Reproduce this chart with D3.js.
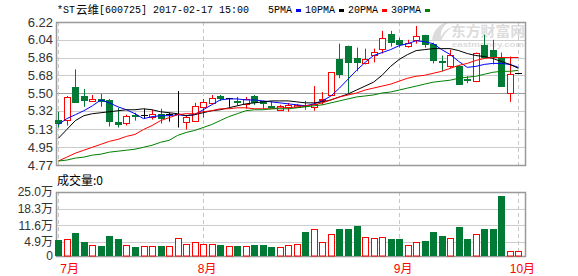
<!DOCTYPE html>
<html>
<head>
<meta charset="utf-8">
<script src="https://cdn.jsdelivr.net/npm/d3@7"></script>
<style>
body { margin: 0; background: #fff; }
svg { display: block; }
</style>
</head>
<body>
<div id="chart"></div>
<script>
// daily candles (yuan)
var open  = [5.23,5.23,5.56,5.47,5.42,5.44,5.43,5.21,5.20,5.28, 5.28,5.26,5.29,5.29,5.29,5.21,5.22,5.36,5.40,5.47,
             5.45,5.42,5.39,5.47,5.42,5.37,5.33,5.36,5.36,5.38, 5.36,5.43,5.48,5.84,5.98,5.85,5.80,5.89,5.95,6.10,
             6.04,5.98,6.04,6.09,6.00,5.82,5.78,5.77,5.64,5.63, 5.99,5.94,5.86,5.50,5.70];
var high  = [5.31,5.47,5.74,5.54,5.48,5.49,5.44,5.35,5.28,5.30, 5.34,5.33,5.34,5.30,5.52,5.27,5.40,5.44,5.48,5.48,
             5.45,5.46,5.46,5.48,5.42,5.42,5.38,5.40,5.39,5.42, 5.57,5.51,5.71,6.00,5.98,5.96,5.95,5.95,6.13,6.13,
             6.06,6.04,6.18,6.09,6.01,5.88,5.94,5.78,5.67,5.91, 6.09,6.04,5.91,5.87,5.70];
var low   = [5.15,5.17,5.40,5.36,5.41,5.36,5.16,5.15,5.17,5.22, 5.24,5.23,5.19,5.21,5.15,5.13,5.21,5.25,5.39,5.42,
             5.36,5.37,5.34,5.38,5.34,5.35,5.32,5.31,5.35,5.33, 5.32,5.38,5.47,5.65,5.50,5.72,5.79,5.81,5.90,5.97,
             5.96,5.96,6.00,5.96,5.80,5.72,5.75,5.59,5.60,5.61, 5.85,5.79,5.58,5.41,5.70];
var close = [5.20,5.46,5.41,5.43,5.44,5.42,5.22,5.19,5.27,5.27, 5.28,5.29,5.25,5.29,5.29,5.26,5.37,5.41,5.45,5.45,
             5.45,5.41,5.44,5.41,5.40,5.36,5.37,5.38,5.38,5.37, 5.39,5.44,5.71,5.69,5.82,5.81,5.84,5.92,6.06,6.02,
             6.00,6.01,6.08,6.00,5.84,5.81,5.89,5.59,5.63,5.91, 5.87,5.88,5.58,5.69,5.70];
// volume, 万 shares
var vol   = [5.6,6.0,8.6,5.0,3.6,3.2,7.3,6.0,3.6,2.8, 3.2,3.2,3.2,3.2,6.3,4.0,4.8,4.0,4.0,3.6,
             3.2,3.2,3.2,3.6,3.6,2.8,2.8,3.6,4.0,9.0, 10.1,5.0,8.1,10.1,10.1,11.3,6.7,6.3,6.7,6.0,
             6.0,3.6,4.8,5.2,9.0,7.3,6.3,10.9,6.0,8.1, 10.1,10.1,23.5,1.2,1.2];
// moving averages as drawn
var ma5  = [5.18,5.24,5.28,5.32,5.37,5.43,5.40,5.36,5.33,5.29, 5.24,5.26,5.27,5.27,5.28,5.27,5.28,5.33,5.38,5.43,
            5.44,5.44,5.43,5.43,5.42,5.41,5.40,5.39,5.38,5.37, 5.39,5.42,5.47,5.55,5.64,5.73,5.81,5.88,5.91,5.94,
            5.98,6.00,6.03,6.02,6.00,5.94,5.89,5.82,5.76,5.77, 5.79,5.80,5.80,5.79,5.76];
var ma10 = [5.04,5.13,5.22,5.27,5.29,5.30,5.31,5.32,5.33,5.33, 5.34,5.33,5.31,5.30,5.29,5.27,5.28,5.30,5.32,5.33,
            5.35,5.37,5.39,5.40,5.41,5.42,5.42,5.42,5.41,5.40, 5.40,5.41,5.43,5.46,5.49,5.53,5.57,5.61,5.68,5.77,
            5.84,5.89,5.93,5.94,5.95,5.95,5.95,5.93,5.90,5.88, 5.87,5.85,5.82,5.79,5.75];
var ma20 = [4.81,4.85,4.89,4.92,4.95,4.98,5.01,5.03,5.06,5.08, 5.13,5.17,5.22,5.25,5.28,5.29,5.29,5.31,5.32,5.34,
            5.34,5.35,5.35,5.34,5.34,5.34,5.35,5.35,5.36,5.37, 5.38,5.40,5.43,5.46,5.48,5.50,5.53,5.55,5.57,5.59,
            5.62,5.65,5.67,5.68,5.70,5.72,5.75,5.78,5.80,5.83, 5.85,5.86,5.86,5.86,5.86];
var ma30 = [4.81,4.82,4.84,4.85,4.87,4.88,4.90,4.91,4.92,4.93, 4.95,4.97,5.00,5.02,5.07,5.10,5.12,5.15,5.18,5.22,
            5.26,5.29,5.32,5.33,5.33,5.34,5.34,5.34,5.35,5.36, 5.37,5.38,5.40,5.42,5.44,5.46,5.47,5.48,5.50,5.51,
            5.53,5.55,5.57,5.59,5.61,5.62,5.63,5.65,5.66,5.67, 5.69,5.71,5.72,5.72,5.73];

var priceTicks = [6.22,6.04,5.86,5.68,5.50,5.32,5.13,4.95,4.77];
var volTicks = [25.0,18.3,11.6,4.9,0];
var months = ["7月","8月","9月","10月"];
var monthIdx = [0,17,40,54];
var maNames = ["5PMA","10PMA","20PMA","30PMA"];
var maColors = ["#0000ff","#000000","#ff0000","#008000"];

var RED = "#ff0000", GREEN = "#007a35";

var W = 578, H = 276;
var left = 56, right = 525, pTop = 22, pBot = 165, vTop = 192, vBot = 256;

var svg = d3.select("#chart").append("svg")
    .attr("width", W).attr("height", H)
    .style("font-family", "'Liberation Sans', Arial, sans-serif");

var x = d3.scaleLinear().domain([0, close.length - 1]).range([58.3, 518.4]);
var y = d3.scaleLinear().domain([4.77, 6.22]).range([pBot, pTop]);
// the volume zero sits a little above the frame bottom in the original
var yv = d3.scaleLinear().domain([0, 25]).range([254, vTop]);

function px(v) { return Math.round(v) + 0.5; }

// watermark
var wm = svg.append("g").attr("fill", "#dcdcdc");
wm.append("path")
  .attr("d", "M432,40 C433,30 440,23 449,22 C443,26 440,31 441,37 C444,31 448,28 452,27 C446,32 443,36 441,41 Z");
wm.append("text").attr("x", 451).attr("y", 36)
  .attr("font-size", 14).attr("font-weight", "bold")
  .attr("font-family", "'Noto Sans CJK SC', sans-serif")
  .attr("textLength", 74).attr("lengthAdjust", "spacingAndGlyphs")
  .text("东方财富网");
wm.append("text").attr("x", 452).attr("y", 47)
  .attr("font-size", 7).attr("font-weight", "bold")
  .attr("textLength", 72).attr("lengthAdjust", "spacingAndGlyphs")
  .text("eastmoney.com");

// grid
var grid = svg.append("g");
grid.selectAll("line.pg").data(priceTicks).enter().append("line")
    .attr("x1", left).attr("x2", right)
    .attr("y1", function(d) { return px(y(d)); })
    .attr("y2", function(d) { return px(y(d)); })
    .attr("stroke", function(d, i) { return i == 4 ? "#999" : "#ccc"; });
grid.selectAll("line.vg").data(volTicks.filter(function(d) { return d > 0; })).enter().append("line")
    .attr("x1", left).attr("x2", right)
    .attr("y1", function(d) { return px(yv(d)); })
    .attr("y2", function(d) { return px(yv(d)); })
    .attr("stroke", "#ccc");

// month dashed lines
monthIdx.forEach(function(m) {
  [[pTop, pBot], [vTop, vBot]].forEach(function(r) {
    grid.append("line")
        .attr("x1", px(x(m))).attr("x2", px(x(m)))
        .attr("y1", r[0]).attr("y2", r[1])
        .attr("stroke", "#c8c8c8").attr("stroke-dasharray", "4,3");
  });
});

// frames
svg.append("rect").attr("x", left + 0.5).attr("y", pTop + 0.5)
   .attr("width", right - left).attr("height", pBot - pTop)
   .attr("fill", "none").attr("stroke", "#999").attr("stroke-width", 1.5);
svg.append("rect").attr("x", left + 0.5).attr("y", vTop + 0.5)
   .attr("width", right - left).attr("height", vBot - vTop)
   .attr("fill", "none").attr("stroke", "#999").attr("stroke-width", 1.5);

// candles
var idx = d3.range(close.length);
function col(i) { return close[i] > open[i] ? RED : (close[i] < open[i] ? GREEN : "#000"); }

var cg = svg.append("g");
idx.forEach(function(i) {
  var cx = px(x(i)), c = col(i);
  cg.append("line").attr("x1", cx).attr("x2", cx)
    .attr("y1", y(high[i])).attr("y2", y(low[i]))
    .attr("stroke", c);
  var top = y(Math.max(open[i], close[i])), bot = y(Math.min(open[i], close[i]));
  if (close[i] > open[i]) {
    cg.append("rect").attr("x", cx - 3).attr("y", Math.round(top) + 0.5)
      .attr("width", 6).attr("height", Math.max(1, Math.round(bot - top)))
      .attr("fill", "#fff").attr("stroke", c);
  } else if (close[i] < open[i]) {
    cg.append("rect").attr("x", cx - 3.5).attr("y", Math.round(top))
      .attr("width", 7).attr("height", Math.max(1, Math.round(bot - top) + 1))
      .attr("fill", c);
  } else {
    cg.append("line").attr("x1", cx - 3.5).attr("x2", cx + 3.5)
      .attr("y1", px(top)).attr("y2", px(top)).attr("stroke", c);
  }
});

// moving average lines
[ma5, ma10, ma20, ma30].forEach(function(s, k) {
  svg.append("path")
     .datum(s)
     .attr("fill", "none")
     .attr("stroke", maColors[k])
     .attr("stroke-width", 1)
     .attr("d", d3.line().x(function(d, i) { return x(i); }).y(function(d) { return y(d); }));
});

// volume bars
var vg = svg.append("g");
idx.forEach(function(i) {
  var cx = px(x(i)), top = Math.round(yv(vol[i]));
  if (close[i] < open[i]) {
    vg.append("rect").attr("x", cx - 3.5).attr("y", top)
      .attr("width", 7).attr("height", vBot - top).attr("fill", GREEN);
  } else {
    vg.append("rect").attr("x", cx - 3).attr("y", top + 0.5)
      .attr("width", 6).attr("height", vBot - top - 0.5)
      .attr("fill", "#fff").attr("stroke", RED);
  }
});

// axes
var ya = svg.append("g").attr("transform", "translate(53,0)")
    .call(d3.axisLeft(y).tickValues(priceTicks).tickFormat(d3.format(".2f")).tickSize(0).tickPadding(0));
ya.select(".domain").remove();
ya.selectAll("text").attr("font-size", 13).attr("fill", "#333");

var yva = svg.append("g").attr("transform", "translate(53,0)")
    .call(d3.axisLeft(yv).tickValues(volTicks).tickSize(0).tickPadding(0)
      .tickFormat(function(d) { return d === 0 ? "0" : d.toFixed(1) + "万"; }));
yva.select(".domain").remove();
yva.selectAll("text").attr("font-size", 12).attr("fill", "#333")
   .attr("font-family", "'Liberation Sans', 'Noto Sans CJK SC', sans-serif");
// the "0" label sits on the frame bottom
yva.selectAll(".tick").filter(function(d) { return d === 0; })
   .attr("transform", "translate(0," + vBot + ")");

// month labels
months.forEach(function(m, k) {
  var t = svg.append("text").attr("y", 273).attr("font-size", 12).attr("fill", RED)
     .attr("font-family", "'Liberation Sans', 'Noto Sans CJK SC', sans-serif").text(m);
  if (k == 0) t.attr("x", x(monthIdx[k]) + 2);
  else t.attr("x", x(monthIdx[k]) + 4).attr("text-anchor", "middle");
});

// title
var mono = "'Liberation Mono', 'DejaVu Sans Mono', monospace";
function monoText(s, x0, yy) {
  return svg.append("text").attr("x", x0).attr("y", yy)
     .attr("font-family", mono).attr("font-size", 10)
     .text(s);
}
monoText("*ST", 57, 13);
svg.append("text").attr("x", 76).attr("y", 13.5).attr("font-size", 11.5)
   .attr("font-family", "'Noto Sans CJK SC', sans-serif").text("云维");
monoText("[600725] 2017-02-17 15:00", 99, 13);

var lx = 268;
maNames.forEach(function(n, k) {
  monoText(n, lx, 13);
  lx += n.length * 6 + 4;
  svg.append("rect").attr("x", lx).attr("y", 9).attr("width", 5).attr("height", 3).attr("fill", maColors[k]);
  lx += 9;
});

// volume caption
svg.append("text").attr("x", 57).attr("y", 185).attr("font-size", 12)
   .attr("font-family", "'Noto Sans CJK SC', sans-serif").text("成交量:0");
</script>
</body>
</html>
